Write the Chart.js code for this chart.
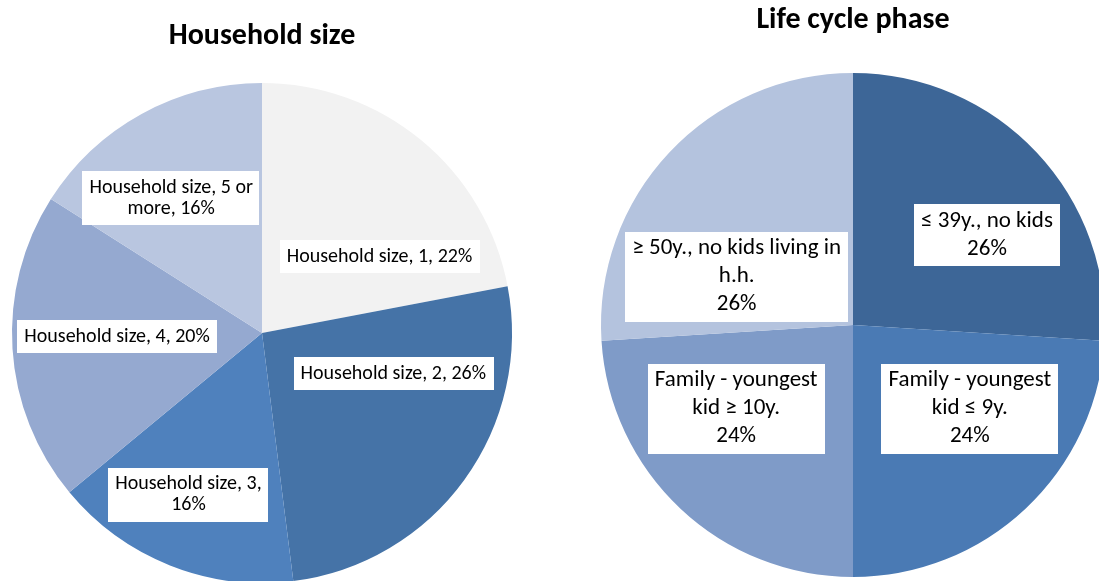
<!DOCTYPE html>
<html>
<head>
<meta charset="utf-8">
<script src="https://cdn.jsdelivr.net/npm/chart.js@4/dist/chart.umd.min.js"></script>
<style>
  html, body { margin: 0; padding: 0; background: #fff; overflow: hidden; width: 1099px; height: 581px; }
  .wrap { position: absolute; left: 0; top: 0; width: 1099px; height: 610px; }
</style>
</head>
<body>
<div class="wrap"><canvas id="household"></canvas></div>
<div class="wrap"><canvas id="lifecycle"></canvas></div>
<script>
// Household size pie
var householdLabels = ['Household size, 1', 'Household size, 2', 'Household size, 3', 'Household size, 4', 'Household size, 5 or more'];
var householdShares = [22, 26, 16, 20, 16];
var householdColors = ['#f2f2f2', '#4573a7', '#4f81bd', '#95a9d0', '#b9c6e0'];

// Life cycle phase pie
var lifeLabels = [['≤ 39y., no kids'], ['Family - youngest', 'kid ≤ 9y.'], ['Family - youngest', 'kid ≥ 10y.'], ['≥ 50y., no kids living in', 'h.h.']];
var lifeShares = [26, 24, 24, 26];
var lifeColors = ['#3d6697', '#4a7ab4', '#7f9bc8', '#b4c3de'];

// label box placement: [fraction along the slice angle, fraction of radius]
var householdLabelPos = [[0.72, 0.56], [0.30, 0.55], [0.55, 0.71], [0.53, 0.58], [0.41, 0.65]];
var householdBreak = [0, 0, 3, 0, 4]; // words on first line, 0 = single line
var lifeLabelPos = [[0.60, 0.64], [0.37, 0.57], [0.63, 0.57], [0.28, 0.50]];

var fontFamily = "Carlito, Lato, 'Open Sans', sans-serif";

function householdLines(i) {
  var text = householdLabels[i] + ', ' + householdShares[i] + '%';
  var n = householdBreak[i];
  if (!n) return [text];
  var words = text.split(' ');
  return [words.slice(0, n).join(' '), words.slice(n).join(' ')];
}

function lifeLines(i) {
  return lifeLabels[i].concat([lifeShares[i] + '%']);
}

// draws white boxed labels on top of each slice
function makeBoxLabels(cfg) {
  return {
    id: 'boxLabels',
    afterDatasetsDraw: function (chart) {
      var ctx = chart.ctx;
      var arcs = chart.getDatasetMeta(0).data;
      ctx.save();
      ctx.font = cfg.font;
      ctx.textAlign = 'center';
      ctx.textBaseline = 'middle';
      arcs.forEach(function (arc, i) {
        var lines = cfg.lines(i);
        var p = cfg.pos[i];
        var a = arc.startAngle + (arc.endAngle - arc.startAngle) * p[0];
        var r = arc.outerRadius * p[1];
        var x = arc.x + Math.cos(a) * r;
        var y = arc.y + Math.sin(a) * r;
        var tw = Math.max.apply(null, lines.map(function (l) { return ctx.measureText(l).width; }));
        var w = tw + 2 * cfg.padX;
        var h = lines.length * cfg.lineHeight + 2 * cfg.padY;
        ctx.fillStyle = '#ffffff';
        ctx.fillRect(Math.round(x - w / 2), Math.round(y - h / 2), Math.round(w), Math.round(h));
        ctx.fillStyle = '#000000';
        lines.forEach(function (l, k) {
          ctx.fillText(l, x, y - h / 2 + cfg.padY + cfg.lineHeight * (k + 0.5));
        });
      });
      ctx.restore();
    }
  };
}

Chart.defaults.font.family = fontFamily;

new Chart(document.getElementById('household'), {
  type: 'pie',
  data: {
    labels: householdLabels,
    datasets: [{
      data: householdShares,
      backgroundColor: householdColors,
      borderWidth: 0,
      radius: 250
    }]
  },
  options: {
    responsive: true,
    maintainAspectRatio: false,
    animation: false,
    events: [],
    layout: { padding: { left: 0, right: 575, top: 0, bottom: 7 } },
    plugins: {
      legend: { display: false },
      tooltip: { enabled: false },
      title: {
        display: true,
        text: 'Household size',
        color: '#000',
        font: { size: 30, weight: 'bold', lineHeight: 1.2 },
        padding: { top: 18, bottom: 9 }
      }
    }
  },
  plugins: [makeBoxLabels({
    font: '20px ' + fontFamily,
    lines: householdLines,
    pos: householdLabelPos,
    padX: 7,
    padY: 6,
    lineHeight: 21
  })]
});

new Chart(document.getElementById('lifecycle'), {
  type: 'pie',
  data: {
    labels: lifeLabels,
    datasets: [{
      data: lifeShares,
      backgroundColor: lifeColors,
      borderWidth: 0,
      radius: 252
    }]
  },
  options: {
    responsive: true,
    maintainAspectRatio: false,
    animation: false,
    events: [],
    layout: { padding: { left: 607, right: 0, top: 0, bottom: 8 } },
    plugins: {
      legend: { display: false },
      tooltip: { enabled: false },
      title: {
        display: true,
        text: 'Life cycle phase',
        color: '#000',
        font: { size: 30, weight: 'bold', lineHeight: 1.2 },
        padding: { top: 2, bottom: 10 }
      }
    }
  },
  plugins: [makeBoxLabels({
    font: '23px ' + fontFamily,
    lines: lifeLines,
    pos: lifeLabelPos,
    padX: 7,
    padY: 3,
    lineHeight: 28
  })]
});
</script>
</body>
</html>
